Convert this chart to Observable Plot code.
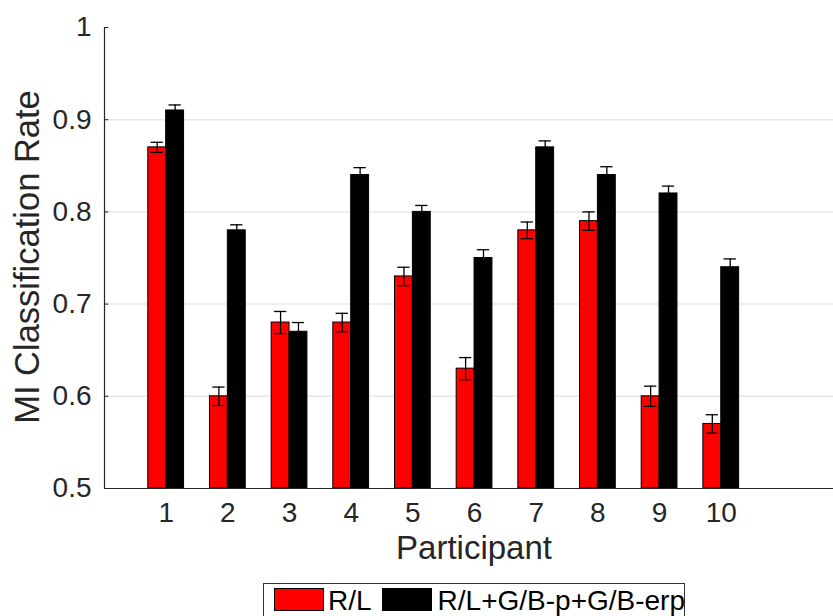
<!DOCTYPE html>
<html>
<head>
<meta charset="utf-8">
<script src="https://cdn.jsdelivr.net/npm/d3@7"></script>
<script src="https://cdn.jsdelivr.net/npm/@observablehq/plot@0.6"></script>
<style>
  html, body { margin: 0; padding: 0; background: #fff; overflow: hidden; }
  body { font-family: "Liberation Sans", Arial, sans-serif; width: 833px; height: 616px; position: relative; }
  #legend {
    position: absolute; left: 263px; top: 583px; width: 422px; height: 42px;
    border: 1px solid #333; box-sizing: border-box; background: #fff;
    display: flex; align-items: flex-start; font-size: 28px; line-height: 28px; color: #000;
  }
  #legend .sw { width: 50px; height: 23px; box-sizing: border-box; border: 1px solid #000; margin-top: 4px; flex: none; }
  #legend .lb { margin-top: 3px; white-space: nowrap; flex: none; }
</style>
</head>
<body>
<div id="chart"></div>
<div id="legend"></div>
<script>
// ---- data ----
const participants = [1, 2, 3, 4, 5, 6, 7, 8, 9, 10];
const seriesNames = ["R/L", "R/L+G/B-p+G/B-erp"];
const seriesColors = ["#ff0000", "#000000"];
const rlValues    = [0.87, 0.60, 0.68, 0.68, 0.73, 0.63, 0.78, 0.79, 0.60, 0.57];
const rlErrors    = [0.0055, 0.010, 0.012, 0.010, 0.010, 0.012, 0.009, 0.010, 0.011, 0.010];
const comboValues = [0.91, 0.78, 0.67, 0.84, 0.80, 0.75, 0.87, 0.84, 0.82, 0.74];
const comboErrors = [0.006, 0.006, 0.010, 0.008, 0.007, 0.009, 0.007, 0.009, 0.008, 0.009];
const yTicks = [0.5, 0.6, 0.7, 0.8, 0.9, 1];
const gridValues = [0.6, 0.7, 0.8, 0.9];
const xLabel = "Participant";
const yLabel = "MI Classification Rate";

// ---- build table ----
const barW = 0.29;
const rows = [];
participants.forEach((p, i) => {
  rows.push({p, series: seriesNames[0], value: rlValues[i], err: rlErrors[i], s: 0});
  rows.push({p, series: seriesNames[1], value: comboValues[i], err: comboErrors[i], s: 1});
});
const x1 = d => d.s === 0 ? d.p - barW : d.p;
const x2 = d => d.s === 0 ? d.p : d.p + barW;
const xc = d => d.s === 0 ? d.p - barW / 2 : d.p + barW / 2;
const capHalf = 0.1;

const axisColor = "#262626";

const chart = Plot.plot({
  width: 833,
  height: 578,
  marginLeft: 104,
  marginRight: 0,
  marginTop: 27,
  marginBottom: 90,
  style: {fontFamily: "Liberation Sans, Arial, sans-serif", background: "#fff", color: axisColor},
  x: {type: "linear", domain: [0, 11.82], axis: null},
  y: {domain: [0.5, 1], axis: null},
  color: {domain: seriesNames, range: seriesColors},
  marks: [
    Plot.ruleY(gridValues, {stroke: "#e8e8e8", strokeWidth: 1.5}),
    Plot.rect(rows, {x1, x2, y1: 0.5, y2: "value", fill: "series", stroke: "#000", strokeWidth: 1}),
    Plot.ruleX(rows, {x: xc, y1: d => d.value - d.err, y2: d => d.value + d.err, stroke: "#000", strokeWidth: 1.3}),
    Plot.ruleY(rows, {y: d => d.value + d.err, x1: d => xc(d) - capHalf, x2: d => xc(d) + capHalf, stroke: "#000", strokeWidth: 1.3}),
    Plot.ruleY(rows, {y: d => d.value - d.err, x1: d => xc(d) - capHalf, x2: d => xc(d) + capHalf, stroke: "#000", strokeWidth: 1.3}),
    Plot.ruleX([0], {y1: 0.5, y2: 1, stroke: axisColor, strokeWidth: 1.2}),
    Plot.ruleY([0.5], {stroke: axisColor, strokeWidth: 1.2}),
    Plot.ruleY(yTicks, {x1: 0, x2: 0.07, stroke: axisColor, strokeWidth: 1}),
    Plot.axisY({ticks: yTicks, tickSize: 0, tickPadding: 13, fontSize: 28, fill: axisColor, label: null, tickFormat: d => String(d)}),
    Plot.axisX({ticks: participants, tickSize: 0, tickPadding: 14, fontSize: 28, fill: axisColor, label: null, tickFormat: d => String(d)}),
    Plot.text([xLabel], {text: d => d, frameAnchor: "bottom", lineAnchor: "middle", textAnchor: "middle", dy: 60, dx: 5, fontSize: 33, fill: axisColor}),
    Plot.text([yLabel], {text: d => d, frameAnchor: "left", lineAnchor: "middle", textAnchor: "middle", dx: -77, dy: -1, rotate: -90, fontSize: 34.5, fill: axisColor})
  ]
});
document.getElementById("chart").appendChild(chart);

// ---- legend ----
const legend = d3.select("#legend");
seriesNames.forEach((name, i) => {
  legend.append("span").attr("class", "sw")
    .style("background", seriesColors[i])
    .style("margin-left", "10px");
  legend.append("span").attr("class", "lb")
    .style("margin-left", i === 0 ? "4px" : "6px")
    .text(name);
});
</script>
</body>
</html>
